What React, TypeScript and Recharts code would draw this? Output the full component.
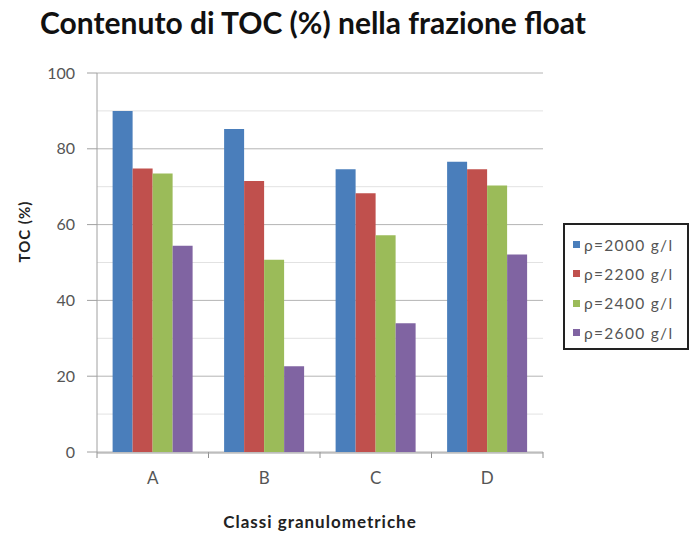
import React from 'react';
import { BarChart, Bar, XAxis, YAxis, CartesianGrid } from 'recharts';

const categories = ['A', 'B', 'C', 'D'];
const s2000 = [90, 85.2, 74.6, 76.6];
const s2200 = [74.8, 71.5, 68.3, 74.6];
const s2400 = [73.5, 50.7, 57.2, 70.3];
const s2600 = [54.4, 22.6, 34.0, 52.1];
const seriesNames = ['ρ=2000 g/l', 'ρ=2200 g/l', 'ρ=2400 g/l', 'ρ=2600 g/l'];
const seriesKeys = ['s2000', 's2200', 's2400', 's2600'];
const colors = ['#4a7ebb', '#c0504d', '#9bbb59', '#8064a2'];
const yTicks = [0, 20, 40, 60, 80, 100];
const yMinor = [10, 30, 50, 70, 90];
const xBoundaries = [0, 1, 2, 3, 4];

const data = categories.map((c, i) => ({
  cat: c,
  idx: i + 0.5,
  s2000: s2000[i],
  s2200: s2200[i],
  s2400: s2400[i],
  s2600: s2600[i],
}));

const FONT = 'Lato, "Open Sans", sans-serif';

export default function App() {
  return (
    <div style={{ position: 'absolute', left: 0, top: 0, width: 693, height: 533, background: '#fff', overflow: 'hidden' }}>
      <div
        style={{
          position: 'absolute',
          left: 40,
          top: 4,
          fontFamily: FONT,
          fontWeight: 700,
          fontSize: 30,
          color: '#111',
          whiteSpace: 'nowrap',
        }}
      >
        Contenuto di TOC (%) nella frazione float
      </div>
      <BarChart
        width={693}
        height={533}
        data={data}
        margin={{ top: 73, right: 150, left: 37, bottom: 50 }}
        barCategoryGap="14%"
        barGap={0}
      >
        <CartesianGrid xAxisId="cat" vertical={false} horizontalValues={yMinor} stroke="#e2e2e2" />
        <CartesianGrid xAxisId="cat" vertical={false} horizontalValues={yTicks} stroke="#b4b4b4" />
        <XAxis
          xAxisId="bnd"
          dataKey="idx"
          type="number"
          domain={[0, 4]}
          allowDataOverflow
          ticks={xBoundaries}
          interval={0}
          tickFormatter={() => ' '}
          tick={{ fontSize: 1, fill: '#fff' }}
          axisLine={false}
          tickLine={{ stroke: '#909090' }}
          tickSize={6}
          height={1}
          orientation="bottom"
        />
        <XAxis
          xAxisId="cat"
          dataKey="cat"
          tickLine={false}
          axisLine={{ stroke: '#a0a0a0' }}
          tick={{ fontFamily: FONT, fontSize: 17, fill: '#555' }}
          tickMargin={13}
          height={30}
          label={{ value: 'Classi granulometriche', position: 'insideBottom', offset: -45, fontFamily: FONT, fontWeight: 700, fontSize: 17, fill: '#222', letterSpacing: 1 }}
        />
        <YAxis
          domain={[0, 100]}
          ticks={yTicks}
          width={60}
          axisLine={{ stroke: '#a0a0a0' }}
          tickLine={{ stroke: '#a0a0a0' }}
          tickSize={10}
          tickMargin={12}
          tick={{ fontFamily: FONT, fontSize: 16, fill: '#555' }}
          label={{ value: 'TOC (%)', angle: -90, position: 'insideLeft', offset: -12, fontFamily: FONT, fontWeight: 700, fontSize: 15, fill: '#222', letterSpacing: 1 }}
        />
        <YAxis
          yAxisId="r"
          orientation="right"
          domain={[0, 100]}
          tick={false}
          tickLine={false}
          axisLine={{ stroke: '#b4b4b4' }}
          width={0}
        />
        {seriesKeys.map((k, i) => (
          <Bar key={k} xAxisId="cat" dataKey={k} name={seriesNames[i]} fill={colors[i]} isAnimationActive={false} />
        ))}
      </BarChart>
      <div
        style={{
          position: 'absolute',
          left: 563,
          top: 223,
          width: 126,
          height: 127,
          boxSizing: 'border-box',
          border: '2px solid #222',
          background: '#fff',
          padding: '5px 0 0 8px',
          fontFamily: FONT,
          fontSize: 15.5,
          color: '#555',
        }}
      >
        {seriesNames.map((n, i) => (
          <div key={n} style={{ display: 'flex', alignItems: 'center', height: 29.3, whiteSpace: 'nowrap' }}>
            <span style={{ display: 'inline-block', width: 7, height: 7, background: colors[i], marginRight: 4 }} />
            <span style={{ letterSpacing: 1.3 }}>{n}</span>
          </div>
        ))}
      </div>
    </div>
  );
}
